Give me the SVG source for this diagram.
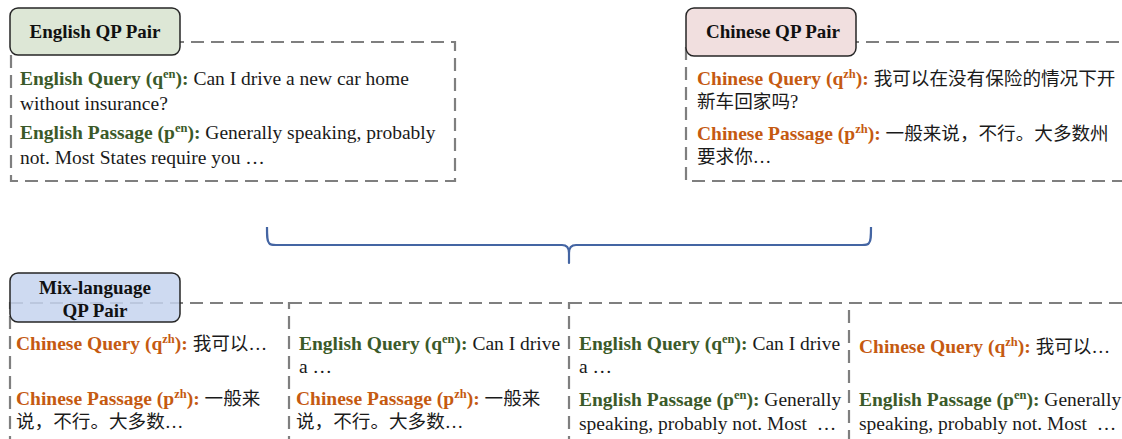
<svg xmlns="http://www.w3.org/2000/svg" width="1122" height="439" viewBox="0 0 1122 439">
  <style>
    .frame { fill: #ffffff; stroke: #7f7f7f; stroke-width: 2.2; stroke-dasharray: 13 7; }
    .tag { stroke: #262626; stroke-width: 1.5; }
    .tag-en { fill: #dde7d6; }
    .tag-zh { fill: #f1dfdf; }
    .tag-mix { fill: #c6d3ef; fill-opacity: 0.85; }
    .tagtxt { font-family: "Liberation Serif", "Times New Roman", serif; font-weight: bold; font-size: 19px; fill: #111111; text-anchor: middle; }
    .body { font-family: "Liberation Serif", "Noto Sans CJK SC", serif; font-size: 19.5px; fill: #1a1a1a; }
    .cjk { font-size: 18.6px; }
    .en { fill: #3b5a29; font-weight: bold; }
    .zh { fill: #c55a11; font-weight: bold; }
    .sup { font-size: 12.5px; }
    .brace { fill: none; stroke: #4465a3; stroke-width: 2.2; stroke-linejoin: round; }
  </style>

  <!-- English pair -->
  <g id="english-pair">
    <rect class="frame" x="11" y="42" width="444" height="139"/>
    <rect class="tag tag-en" x="10" y="8" width="170" height="47" rx="8"/>
    <text class="tagtxt" x="95" y="38">English QP Pair</text>
    <text class="body" x="20" y="85"><tspan class="en">English Query (q<tspan class="sup" dy="-7">en</tspan><tspan dy="7">):</tspan></tspan> Can I drive a new car home</text>
    <text class="body" x="20" y="110">without insurance?</text>
    <text class="body" x="20" y="139"><tspan class="en">English Passage (p<tspan class="sup" dy="-7">en</tspan><tspan dy="7">):</tspan></tspan> Generally speaking, probably</text>
    <text class="body" x="20" y="164">not. Most States require you …</text>
  </g>

  <!-- Chinese pair -->
  <g id="chinese-pair">
    <rect class="frame" x="686" y="42" width="460" height="139"/>
    <rect class="tag tag-zh" x="686" y="8" width="170" height="48" rx="8"/>
    <text class="tagtxt" x="773" y="38">Chinese QP Pair</text>
    <text class="body" x="697" y="85"><tspan class="zh">Chinese Query (q<tspan class="sup" dy="-7">zh</tspan><tspan dy="7">):</tspan></tspan> <tspan class="cjk">我可以在没有保险的情况下开</tspan></text>
    <text class="body cjk" x="697" y="108">新车回家吗?</text>
    <text class="body" x="697" y="140"><tspan class="zh">Chinese Passage (p<tspan class="sup" dy="-7">zh</tspan><tspan dy="7">):</tspan></tspan> <tspan class="cjk">一般来说，不行。大多数州</tspan></text>
    <text class="body cjk" x="697" y="163">要求你…</text>
  </g>

  <!-- brace joining the two pairs into the mixed set -->
  <g id="connectors">
    <path class="brace" d="M267 227 C267 236 267 241 269 243 C270 245 272 245 276 245 L562 245 C567 245 569 248 569 253 L569 263 L569 253 C569 248 571 245 576 245 L862 245 C866 245 868 245 869 243 C871 241 871 236 871 227"/>
  </g>

  <!-- mixed-language panels -->
  <g id="mix-panel-1">
    <rect class="frame" x="10" y="303" width="283" height="160"/>
    <text class="body" x="16" y="350"><tspan class="zh">Chinese Query (q<tspan class="sup" dy="-7">zh</tspan><tspan dy="7">):</tspan></tspan> <tspan class="cjk">我可以…</tspan></text>
    <text class="body" x="16" y="405"><tspan class="zh">Chinese Passage (p<tspan class="sup" dy="-7">zh</tspan><tspan dy="7">):</tspan></tspan> <tspan class="cjk">一般来</tspan></text>
    <text class="body cjk" x="16" y="428">说，不行。大多数…</text>
  </g>

  <g id="mix-panel-2">
    <rect class="frame" x="289" y="303" width="283" height="160"/>
    <text class="body" x="299" y="350"><tspan class="en">English Query (q<tspan class="sup" dy="-7">en</tspan><tspan dy="7">):</tspan></tspan> Can I drive</text>
    <text class="body" x="299" y="373">a …</text>
    <text class="body" x="296" y="405"><tspan class="zh">Chinese Passage (p<tspan class="sup" dy="-7">zh</tspan><tspan dy="7">):</tspan></tspan> <tspan class="cjk">一般来</tspan></text>
    <text class="body cjk" x="296" y="428">说，不行。大多数…</text>
  </g>

  <g id="mix-panel-3">
    <rect class="frame" x="569" y="303" width="283" height="160"/>
    <text class="body" x="579" y="350"><tspan class="en">English Query (q<tspan class="sup" dy="-7">en</tspan><tspan dy="7">):</tspan></tspan> Can I drive</text>
    <text class="body" x="579" y="373">a …</text>
    <text class="body" x="579" y="406"><tspan class="en">English Passage (p<tspan class="sup" dy="-7">en</tspan><tspan dy="7">):</tspan></tspan> Generally</text>
    <text class="body" x="579" y="430">speaking, probably not. Most&#160; …</text>
  </g>

  <g id="mix-panel-4">
    <rect class="frame" x="849" y="303" width="300" height="160"/>
    <text class="body" x="859" y="353"><tspan class="zh">Chinese Query (q<tspan class="sup" dy="-7">zh</tspan><tspan dy="7">):</tspan></tspan> <tspan class="cjk">我可以…</tspan></text>
    <text class="body" x="859" y="406"><tspan class="en">English Passage (p<tspan class="sup" dy="-7">en</tspan><tspan dy="7">):</tspan></tspan> Generally</text>
    <text class="body" x="859" y="430">speaking, probably not. Most&#160; …</text>
  </g>

  <g id="mix-label">
    <rect class="tag tag-mix" x="10" y="273" width="170" height="49" rx="8"/>
    <text class="tagtxt" x="95" y="294">Mix-language</text>
    <text class="tagtxt" x="95" y="317">QP Pair</text>
  </g>
</svg>
